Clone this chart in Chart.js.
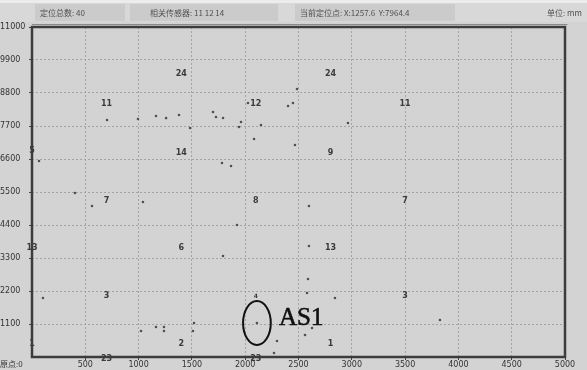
<!DOCTYPE html>
<html>
<head>
<meta charset="utf-8">
<script src="https://cdn.jsdelivr.net/npm/chart.js@4.4.0/dist/chart.umd.min.js"></script>
<style>
html, body { margin: 0; padding: 0; background: #d3d3d3; }
canvas { display: block; }
</style>
</head>
<body>
<canvas id="myChart" width="587" height="370"></canvas>
<script>
// located events (mm)
var eventX = [704, 994, 1163, 1258, 1379, 1482, 66, 403, 563, 1041, 103, 1023, 1163, 1238, 1238, 1520, 1510,
              1698, 1726, 1792, 1961, 1942, 2026, 2148, 2083, 1782, 1867, 2486, 2402, 2448, 2467, 2964,
              2598, 1923, 1792, 2598, 2589, 2842, 2580, 2110, 2627, 2561, 2298, 2270, 3827];
var eventY = [7900, 7933, 8033, 7964, 8067, 7633, 6533, 5467, 5033, 5167, 1967, 867, 1000, 1000, 867, 1133, 867,
              8167, 8000, 7967, 7833, 7667, 8467, 7733, 7267, 6467, 6367, 8933, 8367, 8467, 7067, 7800,
              5033, 4400, 3367, 3700, 2600, 1967, 2133, 1133, 967, 733, 533, 133, 1233];

// sensor numbers
var sensorX = [1400, 2800, 700, 2100, 3500, 1400, 2800, 700, 2100, 3500, 1400, 2800, 700, 2100, 3500, 1400, 2800, 700, 2100, 0, 0, 0];
var sensorY = [9420, 9420, 8450, 8450, 8450, 6800, 6800, 5200, 5200, 5200, 3620, 3620, 2020, 2020, 2020, 430, 450, -60, -60, 6870, 3620, 450];
var sensorName = ['24', '24', '11', '12', '11', '14', '9', '7', '8', '7', '6', '13', '3', '4', '3', '2', '1', '23', '23', '5', '13', '1'];

var xTicks = [500, 1000, 1500, 2000, 2500, 3000, 3500, 4000, 4500, 5000];
var yTicks = [1100, 2200, 3300, 4400, 5500, 6600, 7700, 8800, 9900, 11000];

var headerTexts = ['定位总数: 40', '相关传感器: 11 12 14', '当前定位点: X:1257.6  Y:7964.4', '单位: mm'];

var points = [];
for (var i = 0; i < eventX.length; i++) {
    points.push({x: eventX[i], y: eventY[i]});
}

var extras = {
    id: 'extras',
    beforeDraw: function(chart) {
        var ctx = chart.ctx;
        ctx.save();
        ctx.fillStyle = '#d3d3d3';
        ctx.fillRect(0, 0, chart.width, chart.height);
        // header band
        ctx.fillStyle = '#ececec';
        ctx.fillRect(0, 0, chart.width, 3);
        ctx.fillStyle = '#d8d8d8';
        ctx.fillRect(0, 3, chart.width, 19);
        ctx.fillStyle = '#cbcbcb';
        ctx.fillRect(35, 4, 90, 17);
        ctx.fillRect(130, 4, 148, 17);
        ctx.fillRect(295, 4, 160, 17);
        ctx.fillStyle = '#505050';
        ctx.font = '8px "Noto Sans CJK SC"';
        ctx.textBaseline = 'middle';
        var hx = [40, 150, 300, 547];
        for (var i = 0; i < headerTexts.length; i++) {
            ctx.fillText(headerTexts[i], hx[i], 13);
        }
        ctx.restore();
    },
    afterDatasetsDraw: function(chart) {
        var ctx = chart.ctx;
        var xs = chart.scales.x, ys = chart.scales.y;
        var a = chart.chartArea;
        ctx.save();
        // sensor labels
        ctx.fillStyle = '#3a3a3a';
        ctx.textAlign = 'center';
        ctx.textBaseline = 'middle';
        for (var i = 0; i < sensorName.length; i++) {
            ctx.font = sensorName[i] === '4' ? 'bold 6px "DejaVu Sans"' : 'bold 8px "DejaVu Sans"';
            ctx.fillText(sensorName[i], xs.getPixelForValue(sensorX[i]), ys.getPixelForValue(sensorY[i]));
        }
        // AS1 ellipse
        var cx = xs.getPixelForValue(2110), cy = ys.getPixelForValue(1133);
        var rx = xs.getPixelForValue(2110 + 130) - cx;
        var ry = cy - ys.getPixelForValue(1133 + 733);
        ctx.strokeStyle = '#111';
        ctx.lineWidth = 2;
        ctx.beginPath();
        ctx.ellipse(cx, cy, rx, ry, 0, 0, Math.PI * 2);
        ctx.stroke();
        ctx.fillStyle = '#111';
        ctx.strokeStyle = '#111';
        ctx.lineWidth = 0.6;
        ctx.font = '25px "Liberation Serif"';
        ctx.textAlign = 'left';
        ctx.textBaseline = 'alphabetic';
        var tx = xs.getPixelForValue(2317), ty = ys.getPixelForValue(1067);
        ctx.fillText('AS1', tx, ty);
        ctx.strokeText('AS1', tx, ty);
        // frame
        ctx.strokeStyle = '#8a8a8a';
        ctx.lineWidth = 1;
        ctx.beginPath();
        ctx.moveTo(a.left, a.top - 2.5);
        ctx.lineTo(a.right + 2.5, a.top - 2.5);
        ctx.stroke();
        ctx.strokeStyle = '#3c3c3c';
        ctx.lineWidth = 2.5;
        ctx.strokeRect(a.left, a.top, a.right - a.left, a.bottom - a.top);
        // origin label
        ctx.fillStyle = '#333';
        ctx.font = '8px "Noto Sans CJK SC"';
        ctx.textBaseline = 'middle';
        ctx.fillText('原点:0', 0, 364);
        ctx.restore();
    }
};

var ctx = document.getElementById('myChart').getContext('2d');
var chart = new Chart(ctx, {
    type: 'scatter',
    data: {
        datasets: [{
            label: '定位点',
            data: points,
            pointRadius: 1.3,
            pointBackgroundColor: '#505050',
            pointBorderWidth: 0
        }]
    },
    options: {
        responsive: false,
        animation: false,
        layout: { padding: { top: 27, right: 22, left: 0, bottom: 0 } },
        plugins: { legend: { display: false }, tooltip: { enabled: false } },
        scales: {
            x: {
                type: 'linear', min: 0, max: 5000,
                afterBuildTicks: function(s) { s.ticks = xTicks.map(function(v) { return {value: v}; }); },
                afterFit: function(s) { s.height = 13; },
                ticks: { font: { size: 8, family: 'DejaVu Sans' }, color: '#333', padding: 0, maxRotation: 0, autoSkip: false,
                         callback: function(v) { return String(v); } },
                grid: { color: '#a4a4a4', tickLength: 3, tickColor: '#444' },
                border: { display: false, dash: [2, 2] }
            },
            y: {
                type: 'linear', min: 0, max: 11000,
                afterBuildTicks: function(s) { s.ticks = yTicks.map(function(v) { return {value: v}; }); },
                afterFit: function(s) { s.width = 32; },
                ticks: { font: { size: 8, family: 'DejaVu Sans' }, color: '#333', padding: 1, crossAlign: 'far', autoSkip: false,
                         callback: function(v) { return String(v); } },
                grid: { color: '#a4a4a4', tickLength: 3, tickColor: '#444' },
                border: { display: false, dash: [2, 2] }
            }
        }
    },
    plugins: [extras]
});
</script>
</body>
</html>
